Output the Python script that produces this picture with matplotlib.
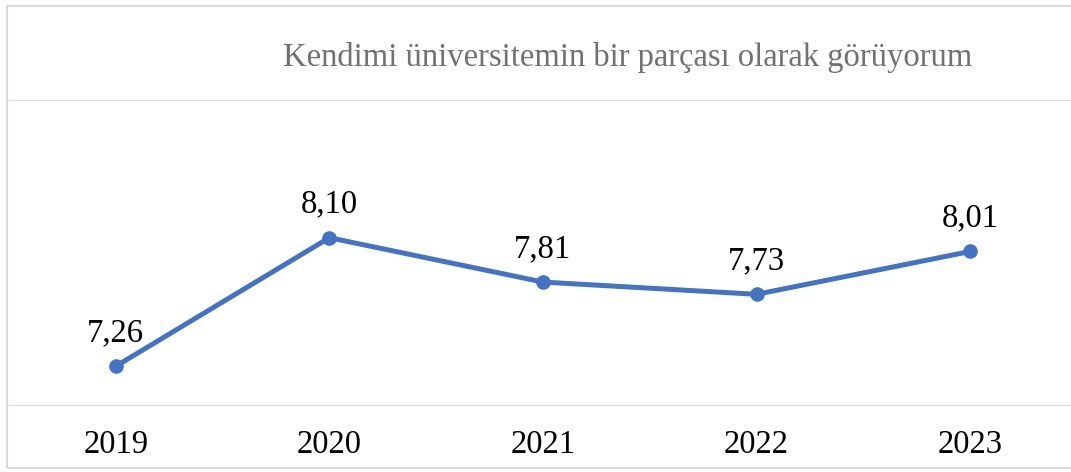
import matplotlib
matplotlib.use("Agg")
import matplotlib.pyplot as plt
from matplotlib.patches import Rectangle

years = ["2019", "2020", "2021", "2022", "2023"]
values = [7.26, 8.10, 7.81, 7.73, 8.01]
labels = ["7,26", "8,10", "7,81", "7,73", "8,01"]
title = "Kendimi üniversitemin bir parçası olarak görüyorum"

W, H = 1071, 472
fig = plt.figure(figsize=(W / 100, H / 100), dpi=100)
plt.rcParams['font.family'] = ['Liberation Serif', 'DejaVu Serif']

# outer chart border
fig.patches.append(Rectangle((6.5 / W, 4 / H), 1.2, (466 - 4) / H, transform=fig.transFigure,
                             fill=False, edgecolor="#d9d9d9", linewidth=1.5))

left, right = 9 / W, 1077 / W
bottom, top = 1 - 406 / H, 1 - 100 / H
ax = fig.add_axes([left, bottom, right - left, top - bottom])
ax.set_xlim(-0.5, len(years) - 0.5)
ax.set_ylim(7, 9)
x = list(range(len(years)))
ax.plot(x, values, color="#4472C4", linewidth=3.6, marker="o", markersize=9.5,
        solid_capstyle="round", zorder=3)
for xi, v, lab in zip(x, values, labels):
    ax.annotate(lab, (xi, v), xytext=(0, 13), textcoords="offset points",
                ha="center", va="bottom", fontsize=23.5, color="black")

ax.set_yticks([7, 9])
ax.yaxis.grid(True, color="#d9d9d9", linewidth=1.5)
ax.set_axisbelow(True)
ax.tick_params(axis="y", left=False, labelleft=False)
ax.set_xticks(x)
ax.set_xticklabels(years, fontsize=23.5)
ax.tick_params(axis="x", length=0, pad=17)
for s in ax.spines.values():
    s.set_visible(False)

fig.text(628 / W, 1 - 66 / H, title, ha="center", va="baseline", fontsize=23.5, color="#757070")

fig.savefig("out.png", dpi=100)
